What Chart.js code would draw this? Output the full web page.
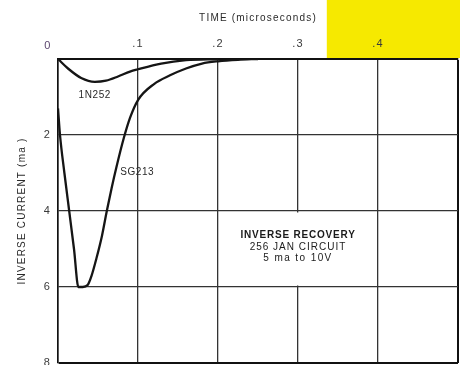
<!DOCTYPE html>
<html lang="en">
<head>
<meta charset="UTF-8">
<title>Inverse Recovery</title>
<script src="https://cdn.jsdelivr.net/npm/chart.js"></script>
<style>
  html, body { margin: 0; padding: 0; background: #fff; overflow: hidden; }
  #chart { display: block; }
</style>
</head>
<body>
<canvas id="chart" width="460" height="365"></canvas>
<script>
// time (microseconds) / inverse current (ma)
const sgTime    = [0, 0.0025, 0.008, 0.014, 0.02, 0.0255, 0.031, 0.037, 0.042, 0.048, 0.055, 0.061, 0.067, 0.073, 0.082, 0.09, 0.1, 0.12, 0.14, 0.16, 0.18, 0.2, 0.225, 0.25];
const sgCurrent = [1.3, 2.0, 3.0, 4.0, 5.0, 6.0, 6.0, 5.95, 5.7, 5.25, 4.65, 4.0, 3.4, 2.85, 2.1, 1.55, 1.08, 0.66, 0.43, 0.25, 0.12, 0.06, 0.02, 0];

const inTime    = [0, 0.0125, 0.029, 0.046, 0.06, 0.075, 0.09, 0.1, 0.129, 0.16, 0.2];
const inCurrent = [0, 0.25, 0.5, 0.6, 0.57, 0.46, 0.33, 0.27, 0.12, 0.03, 0];

const xTicks = [0, 0.1, 0.2, 0.3, 0.4, 0.5];
const xTickLabels = ['', '.1', '.2', '.3', '.4', ''];
const yTicks = [0, 2, 4, 6, 8];
const yTickLabels = ['', '2', '4', '6', '8'];

const noteLines = ['INVERSE RECOVERY', '256 JAN CIRCUIT', '5 ma to 10V'];

const FONT = '"Liberation Sans", Arial, sans-serif';
const INK = '#2a2a2a';

function points(xs, ys) {
    return xs.map((x, i) => ({ x, y: ys[i] }));
}

const edgeColor = (edge) => (c) => (c.tick && c.tick.value === edge ? '#111' : '#333');
const edgeWidth = (edge) => (c) => (c.tick && c.tick.value === edge ? 2 : 1.3);

const overlay = {
    id: 'overlay',
    beforeDraw(chart) {
        const { ctx, chartArea, scales: { x } } = chart;
        // yellow marker strip above the right end of the time axis
        const x0 = x.getPixelForValue(0.336);
        ctx.fillStyle = '#f6e900';
        ctx.fillRect(x0, 0, chart.width - x0, chartArea.top - 1);
        ctx.letterSpacing = '1.2px';
    },
    beforeDatasetsDraw(chart) {
        const { ctx, scales: { x, y } } = chart;
        // plain panel behind the circuit note
        const l = x.getPixelForValue(0.2) + 1.5, r = x.getPixelForValue(0.4) - 1.5;
        const t = y.getPixelForValue(4) + 1.5, b = y.getPixelForValue(6) - 1.5;
        ctx.save();
        ctx.fillStyle = '#fff';
        ctx.fillRect(l, t, r - l, b - t);
        ctx.restore();
    },
    afterDatasetsDraw(chart) {
        const { ctx, scales: { x, y } } = chart;
        ctx.save();
        ctx.textAlign = 'center';
        ctx.textBaseline = 'middle';

        ctx.fillStyle = '#5b456e';
        ctx.font = '11px ' + FONT;
        ctx.fillText('0', x.getPixelForValue(0) - 10, y.getPixelForValue(0) - 13);

        ctx.fillStyle = INK;
        ctx.font = '10px ' + FONT;
        ctx.letterSpacing = '0.6px';
        ctx.fillText('1N252', x.getPixelForValue(0.046), y.getPixelForValue(0.95));
        ctx.fillText('SG213', x.getPixelForValue(0.099), y.getPixelForValue(2.99));

        const cx = x.getPixelForValue(0.3);
        ctx.fillStyle = '#1a1a1a';
        ctx.font = 'bold 10px ' + FONT;
        ctx.letterSpacing = '0.8px';
        ctx.fillText(noteLines[0], cx, y.getPixelForValue(4.64));
        ctx.font = '10px ' + FONT;
        ctx.letterSpacing = '1px';
        ctx.fillText(noteLines[1], cx, y.getPixelForValue(4.95));
        ctx.letterSpacing = '1.4px';
        ctx.fillText(noteLines[2], cx, y.getPixelForValue(5.24));
        ctx.restore();
    }
};

new Chart(document.getElementById('chart'), {
    type: 'line',
    data: {
        datasets: [
            { label: 'SG213', data: points(sgTime, sgCurrent) },
            { label: '1N252', data: points(inTime, inCurrent) }
        ]
    },
    options: {
        responsive: false,
        animation: false,
        devicePixelRatio: 1,
        layout: { padding: { top: 0, right: 2, bottom: 2, left: 0 } },
        plugins: { legend: { display: false }, tooltip: { enabled: false } },
        elements: {
            point: { radius: 0 },
            line: { borderColor: '#151515', borderWidth: 2.3, cubicInterpolationMode: 'monotone', fill: false }
        },
        scales: {
            x: {
                type: 'linear',
                position: 'top',
                min: 0,
                max: 0.5,
                afterBuildTicks: (s) => { s.ticks = xTicks.map(v => ({ value: v })); },
                afterFit: (s) => { s.height = 59; s.paddingLeft = 0; s.paddingRight = 0; },
                ticks: {
                    autoSkip: false,
                    maxRotation: 0,
                    padding: 8,
                    color: '#3a3a3a',
                    font: { family: FONT, size: 11 },
                    callback: (v, i) => xTickLabels[i]
                },
                grid: { drawTicks: false, color: edgeColor(0.5), lineWidth: edgeWidth(0.5) },
                border: { color: '#111', width: 2 },
                title: {
                    display: true,
                    text: 'TIME (microseconds)',
                    color: INK,
                    font: { family: FONT, size: 10 },
                    padding: { top: 12, bottom: 0 }
                }
            },
            y: {
                type: 'linear',
                reverse: true,
                min: 0,
                max: 8,
                afterBuildTicks: (s) => { s.ticks = yTicks.map(v => ({ value: v })); },
                afterFit: (s) => { s.width = 58; s.paddingTop = 0; s.paddingBottom = 0; },
                ticks: {
                    autoSkip: false,
                    padding: 7,
                    color: '#3a3a3a',
                    font: { family: FONT, size: 11 },
                    callback: (v, i) => yTickLabels[i]
                },
                grid: { drawTicks: false, color: edgeColor(8), lineWidth: edgeWidth(8) },
                border: { color: '#111', width: 1.6 },
                title: {
                    display: true,
                    text: 'INVERSE CURRENT (ma )',
                    color: INK,
                    font: { family: FONT, size: 10 },
                    padding: { top: 16, bottom: 0 }
                }
            }
        }
    },
    plugins: [overlay]
});
</script>
</body>
</html>
